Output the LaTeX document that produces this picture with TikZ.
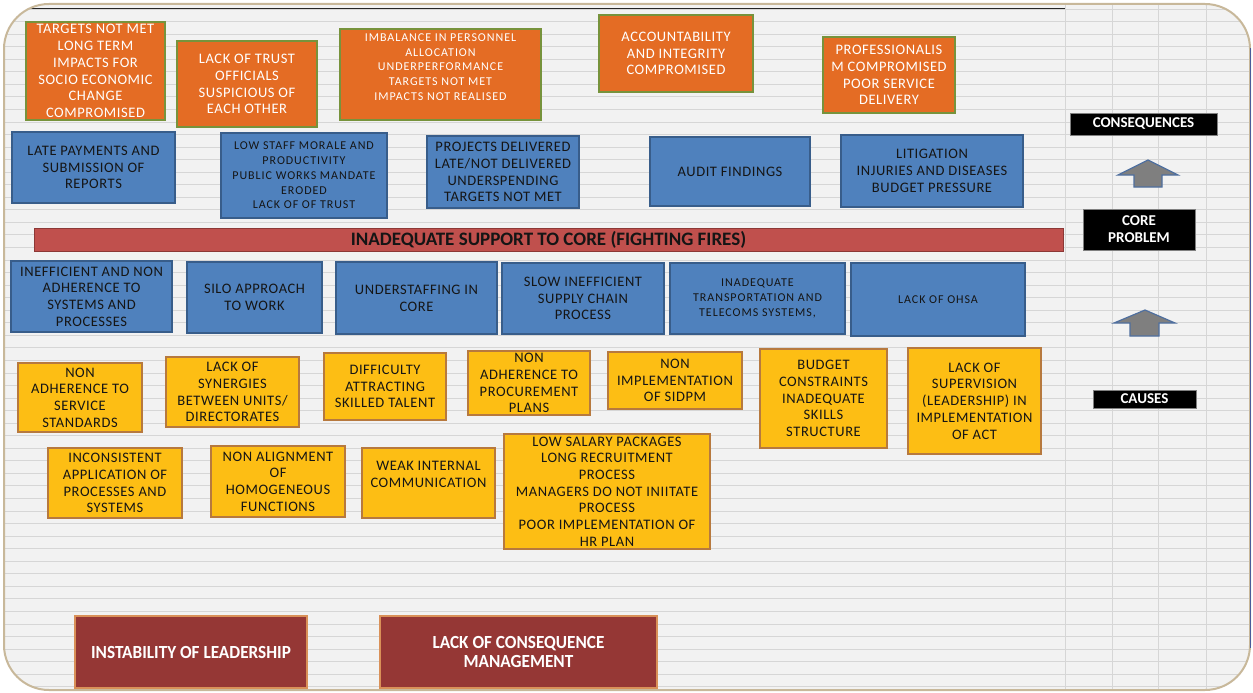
\documentclass[tikz,border=0pt]{standalone}
\usepackage{fontspec}
\setmainfont{Carlito}
\newfontfamily\trackedfont[LetterSpace=4]{Carlito}
\newfontfamily\smallfont[LetterSpace=8]{Carlito}

\definecolor{sheetgray}{HTML}{F2F2F2}
\definecolor{gridgray}{HTML}{D6D6D6}
\definecolor{frametan}{HTML}{C8B89A}
\definecolor{edgeblue}{HTML}{4A5A9A}
\definecolor{cellorange}{HTML}{E46C24}
\definecolor{olivegreen}{HTML}{77933C}
\definecolor{cellblue}{HTML}{4F81BD}
\definecolor{blueedgeline}{HTML}{385D8A}
\definecolor{corered}{HTML}{C0504D}
\definecolor{coreredline}{HTML}{8C3836}
\definecolor{cellyellow}{HTML}{FDBE14}
\definecolor{yellowline}{HTML}{B7793E}
\definecolor{maroon}{HTML}{953735}
\definecolor{maroonline}{HTML}{D99058}
\definecolor{arrowgray}{HTML}{7F7F7F}
\definecolor{arrowline}{HTML}{4F6F9F}
\definecolor{inkdark}{HTML}{151515}

% box from its corner coordinates: name, style, x1, y1, x2, y2, text
\newcommand\placebox[7]{%
  \pgfmathsetmacro\qbw{#5-#3}\pgfmathsetmacro\qbh{#6-#4}%
  \pgfmathsetmacro\qbx{(#3+#5)/2}\pgfmathsetmacro\qby{(#4+#6)/2}%
  \node[#2, minimum width=\qbw pt, minimum height=\qbh pt] (#1) at (\qbx,\qby) {#7};}
% condensed heading text in the maroon boxes
\newcommand\narrowtext[1]{\scalebox{0.93}[1]{#1}}

\begin{document}
\begin{tikzpicture}[x=1pt,y=-1pt,
  every node/.style={inner sep=0pt, outer sep=0pt, align=center},
  cell/.style={draw, line width=1.5pt, font=\trackedfont\fontsize{14.5}{16.7}\selectfont},
  smalltext/.style={font=\smallfont\fontsize{12}{14.8}\selectfont},
  orangebox/.style={cell, fill=cellorange, draw=olivegreen, text=white},
  bluebox/.style={cell, fill=cellblue, draw=blueedgeline, text=inkdark},
  yellowbox/.style={cell, fill=cellyellow, draw=yellowline, text=inkdark},
  corebar/.style={draw=coreredline, fill=corered, line width=1pt, text=inkdark,
    font=\bfseries\fontsize{19}{20}\selectfont},
  maroonbox/.style={draw=maroonline, fill=maroon, line width=1.5pt, text=white,
    font=\bfseries\fontsize{18.5}{19}\selectfont},
  tag/.style={draw=gray, fill=black, line width=0.8pt, text=white,
    font=\bfseries\fontsize{15}{17}\selectfont},
  blockarrow/.style={fill=arrowgray, draw=arrowline, line width=1.2pt, line join=miter},
  gridline/.style={draw=gridgray, line width=0.9pt},
]
\useasboundingbox (0,0) rectangle (1253,693);
\fill[white] (0,0) rectangle (1253,693);

% worksheet background with cell grid
\fill[sheetgray, rounded corners=45pt] (4,4) rectangle (1250,690);
\begin{scope}
  \clip[rounded corners=45pt] (4,4) rectangle (1250,690);
  \foreach \k in {0,...,54} \draw[gridline] (0,9+12.55*\k) -- (1253,9+12.55*\k);
  \foreach \xx in {1065,1112,1158,1206} \draw[gridline] (\xx,0) -- (\xx,693);
  \draw[black!85, line width=1.6pt] (0,8.5) -- (1065,8.5);
\end{scope}
\draw[frametan, line width=2pt, rounded corners=45pt] (4,4) rectangle (1250,690);
\draw[edgeblue, line width=1pt] (1250,48) -- (1250,648);

% consequences (top)
\placebox{tgt}{orangebox}{26}{22}{165}{120}{TARGETS NOT MET\\LONG TERM\\IMPACTS FOR\\SOCIO ECONOMIC\\CHANGE\\COMPROMISED}
\placebox{trust}{orangebox}{177}{41}{317}{127}{LACK OF TRUST\\OFFICIALS\\SUSPICIOUS OF\\EACH OTHER}
\placebox{imbal}{orangebox,smalltext}{340}{29}{541}{120}{IMBALANCE IN PERSONNEL\\ALLOCATION\\UNDERPERFORMANCE\\TARGETS NOT MET\\IMPACTS NOT REALISED\\\mbox{}}
\placebox{acct}{orangebox}{599}{15}{753}{92}{ACCOUNTABILITY\\AND INTEGRITY\\COMPROMISED}
\placebox{prof}{orangebox}{823}{37}{955}{113}{PROFESSIONALIS\\M COMPROMISED\\POOR SERVICE\\DELIVERY}

\placebox{late}{bluebox}{12}{132}{175}{203}{LATE PAYMENTS AND\\SUBMISSION OF\\REPORTS}
\placebox{morale}{bluebox,smalltext}{221}{133}{387}{218}{LOW STAFF MORALE AND\\PRODUCTIVITY\\PUBLIC WORKS MANDATE\\ERODED\\LACK OF OF TRUST}
\placebox{proj}{bluebox}{427}{136}{579}{208}{PROJECTS DELIVERED\\LATE/NOT DELIVERED\\UNDERSPENDING\\TARGETS NOT MET}
\placebox{audit}{bluebox}{650}{137}{810}{206}{AUDIT FINDINGS}
\placebox{litig}{bluebox}{841}{135}{1023}{207}{LITIGATION\\INJURIES AND DISEASES\\BUDGET PRESSURE}

% core problem
\placebox{core}{corebar}{34}{228}{1063}{251}{INADEQUATE SUPPORT TO CORE (FIGHTING FIRES)}

% causes
\placebox{ineff}{bluebox}{11}{261}{172}{332}{INEFFICIENT AND NON\\ADHERENCE TO\\SYSTEMS AND\\PROCESSES}
\placebox{silo}{bluebox}{187}{262}{322}{333}{SILO APPROACH\\TO WORK}
\placebox{understaff}{bluebox}{336}{262}{497}{334}{UNDERSTAFFING IN\\CORE}
\placebox{supply}{bluebox}{502}{263}{664}{334}{SLOW INEFFICIENT\\SUPPLY CHAIN\\PROCESS}
\placebox{transport}{bluebox,smalltext}{670}{263}{845}{334}{INADEQUATE\\TRANSPORTATION AND\\TELECOMS SYSTEMS,}
\placebox{ohsa}{bluebox,smalltext}{851}{263}{1025}{336}{LACK OF OHSA}

\placebox{svc}{yellowbox}{18}{363}{142}{432}{NON\\ADHERENCE TO\\SERVICE\\STANDARDS}
\placebox{syn}{yellowbox}{166}{357}{299}{427}{LACK OF\\SYNERGIES\\BETWEEN UNITS/\\DIRECTORATES}
\placebox{talent}{yellowbox}{324}{353}{446}{420}{DIFFICULTY\\ATTRACTING\\SKILLED TALENT}
\placebox{procure}{yellowbox}{468}{351}{590}{415}{NON\\ADHERENCE TO\\PROCUREMENT\\PLANS}
\placebox{sidpm}{yellowbox}{608}{352}{742}{409}{NON\\IMPLEMENTATION\\OF SIDPM}
\placebox{budget}{yellowbox}{760}{349}{887}{448}{BUDGET\\CONSTRAINTS\\INADEQUATE\\SKILLS\\STRUCTURE}
\placebox{superv}{yellowbox}{908}{348}{1041}{454}{LACK OF\\SUPERVISION\\(LEADERSHIP) IN\\IMPLEMENTATION\\OF ACT}

\placebox{incons}{yellowbox}{48}{448}{182}{518}{INCONSISTENT\\APPLICATION OF\\PROCESSES AND\\SYSTEMS}
\placebox{align}{yellowbox}{211}{446}{345}{517}{NON ALIGNMENT\\OF\\HOMOGENEOUS\\FUNCTIONS}
\placebox{comm}{yellowbox}{362}{448}{495}{518}{WEAK INTERNAL\\COMMUNICATION\\\mbox{}}
\placebox{salary}{yellowbox}{504}{434}{710}{549}{LOW SALARY PACKAGES\\LONG RECRUITMENT\\PROCESS\\MANAGERS DO NOT INIITATE\\PROCESS\\POOR IMPLEMENTATION OF\\HR PLAN}

\placebox{instab}{maroonbox}{75}{616}{307}{688}{\narrowtext{INSTABILITY OF LEADERSHIP}}
\placebox{conseq}{maroonbox}{380}{616}{657}{688}{\narrowtext{LACK OF CONSEQUENCE}\\\narrowtext{MANAGEMENT}}

% legend column
\placebox{lblcons}{tag}{1070}{113}{1217}{135}{CONSEQUENCES}
\placebox{lblcore}{tag}{1083}{209}{1195}{250}{CORE\\PROBLEM}
\placebox{lblcause}{tag}{1093}{390}{1196}{408}{CAUSES}

\draw[blockarrow] (1148,160) -- (1178,175) -- (1162,175) -- (1162,187)
  -- (1134,187) -- (1134,175) -- (1118,175) -- cycle;
\draw[blockarrow] (1145,310) -- (1175,323) -- (1159,323) -- (1159,336)
  -- (1130,336) -- (1130,323) -- (1114,323) -- cycle;
\end{tikzpicture}
\end{document}
